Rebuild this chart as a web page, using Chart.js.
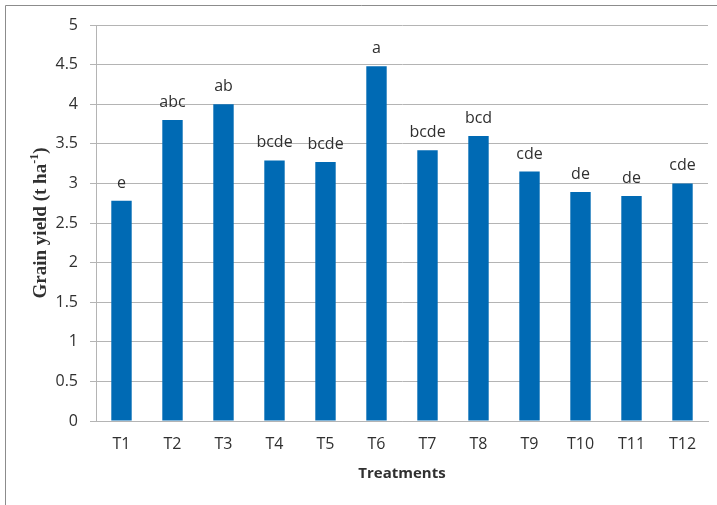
<!DOCTYPE html>
<html>
<head>
<meta charset="utf-8">
<script src="https://cdn.jsdelivr.net/npm/chart.js@4.4.1/dist/chart.umd.min.js"></script>
<style>
  html, body { margin: 0; padding: 0; background: #fff; }
  #wrap { width: 717px; height: 505px; position: relative; }
</style>
</head>
<body>
<div id="wrap"><canvas id="yield-chart"></canvas></div>
<script>
// 처리구별 곡물 수량
const treatments = ['T1', 'T2', 'T3', 'T4', 'T5', 'T6', 'T7', 'T8', 'T9', 'T10', 'T11', 'T12'];
const grainYield = [2.78, 3.80, 4.00, 3.29, 3.27, 4.48, 3.42, 3.60, 3.15, 2.89, 2.84, 3.00];
const letters = ['e', 'abc', 'ab', 'bcde', 'bcde', 'a', 'bcde', 'bcd', 'cde', 'de', 'de', 'cde'];

const textColor = '#303030';
const gridColor = '#b4b4b4';

// 배경 + 바깥 테두리
const framePlugin = {
    id: 'frame',
    beforeDraw(chart) {
        const ctx = chart.ctx;
        ctx.save();
        ctx.fillStyle = '#ffffff';
        ctx.fillRect(0, 0, chart.width, chart.height);
        ctx.strokeStyle = '#8c8c8c';
        ctx.lineWidth = 1;
        ctx.beginPath();
        ctx.moveTo(5.5, chart.height);
        ctx.lineTo(5.5, 5.5);
        ctx.lineTo(chart.width, 5.5);
        ctx.stroke();
        ctx.restore();
    }
};

// 막대 위 문자 + 축 제목
const labelPlugin = {
    id: 'labels',
    afterDatasetsDraw(chart) {
        const ctx = chart.ctx;
        const meta = chart.getDatasetMeta(0);
        ctx.save();
        ctx.fillStyle = textColor;
        ctx.font = '16px "Open Sans"';
        ctx.textAlign = 'center';
        ctx.textBaseline = 'alphabetic';
        meta.data.forEach((bar, i) => {
            ctx.fillText(letters[i], bar.x, bar.y - 13);
        });

        // x축 제목
        const area = chart.chartArea;
        ctx.font = 'bold 15px "Open Sans"';
        ctx.textBaseline = 'middle';
        ctx.fillText('Treatments', (area.left + area.right) / 2, 474);

        // y축 제목 (윗첨자 포함)
        const mainFont = 'bold 19px "Liberation Serif"';
        const supFont = 'bold 12px "Liberation Serif"';
        const part1 = 'Grain yield (t ha';
        const sup = '-1';
        const part2 = ')';
        ctx.font = mainFont;
        const w1 = ctx.measureText(part1).width;
        const w3 = ctx.measureText(part2).width;
        ctx.font = supFont;
        const w2 = ctx.measureText(sup).width;
        const total = w1 + w2 + w3;
        ctx.translate(46, (area.top + area.bottom) / 2);
        ctx.rotate(-Math.PI / 2);
        ctx.textAlign = 'left';
        ctx.textBaseline = 'alphabetic';
        let x = -total / 2;
        ctx.font = mainFont;
        ctx.fillText(part1, x, 0);
        x += w1;
        ctx.font = supFont;
        ctx.fillText(sup, x, -8);
        x += w2;
        ctx.font = mainFont;
        ctx.fillText(part2, x, 0);
        ctx.restore();
    }
};

const ctx = document.getElementById('yield-chart').getContext('2d');
new Chart(ctx, {
    type: 'bar',
    data: {
        labels: treatments,
        datasets: [{
            data: grainYield,
            backgroundColor: '#006ab4',
            barPercentage: 0.4,
            categoryPercentage: 1.0
        }]
    },
    options: {
        responsive: true,
        maintainAspectRatio: false,
        animation: false,
        layout: { padding: { left: 0, top: 25, right: 9, bottom: 0 } },
        plugins: {
            legend: { display: false },
            tooltip: { enabled: false }
        },
        scales: {
            x: {
                grid: { display: false, drawTicks: false },
                border: { display: true, color: gridColor, width: 1 },
                ticks: {
                    color: textColor,
                    font: { family: 'Open Sans', size: 16 },
                    padding: 14,
                    maxRotation: 0
                },
                afterFit(scale) { scale.height = 84; }
            },
            y: {
                min: 0,
                max: 5,
                grid: { color: gridColor, tickLength: 6, lineWidth: 1 },
                border: { display: true, color: gridColor, width: 1 },
                ticks: {
                    stepSize: 0.5,
                    color: textColor,
                    font: { family: 'Open Sans', size: 16 },
                    padding: 12,
                    callback: value => String(value)
                },
                afterFit(scale) { scale.width = 96; }
            }
        }
    },
    plugins: [framePlugin, labelPlugin]
});
</script>
</body>
</html>
